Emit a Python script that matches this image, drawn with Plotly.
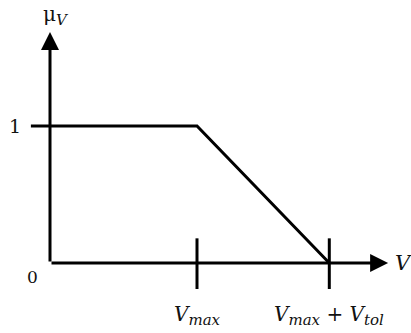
import plotly.graph_objects as go

# Membership function of the voltage variable (trapezoid shoulder)
V_MAX = 1.0
V_TOL = 0.9
V_START = -0.13

v_points = [V_START, V_MAX, V_MAX + V_TOL]
mu_points = [1, 1, 0]

SUB = '<span style="font-size:15px"><i>{}</i></span>'
tick_positions = [V_MAX, V_MAX + V_TOL]
tick_labels = ["<i>V</i><sub>" + SUB.format("max") + "</sub>",
               "<i>V</i><sub>" + SUB.format("max") + "</sub> + <i>V</i><sub>"
               + SUB.format("tol") + "</sub>"]

X_END = 2.3
Y_END = 1.686
TICK_HALF = 0.18

LINE = "#000000"
FONT = "DejaVu Serif"
TXT = "#111111"

fig = go.Figure()

# membership curve
fig.add_trace(go.Scatter(
    x=v_points, y=mu_points, mode="lines",
    line=dict(color=LINE, width=3), hoverinfo="skip", showlegend=False))

# tick marks on the horizontal axis
tx, ty = [], []
for p in tick_positions:
    tx += [p, p, None]
    ty += [TICK_HALF, -TICK_HALF - 0.01, None]
fig.add_trace(go.Scatter(
    x=tx, y=ty, mode="lines",
    line=dict(color=LINE, width=3), hoverinfo="skip", showlegend=False))

# axes with arrowheads
for tip in [(X_END, 0), (0, Y_END)]:
    fig.add_annotation(
        x=tip[0], y=tip[1], ax=0, ay=0, xref="x", yref="y",
        axref="x", ayref="y", text="", showarrow=True,
        arrowhead=2, arrowsize=1.2, arrowwidth=3, arrowcolor=LINE)

# tick labels
for p, lab in zip(tick_positions, tick_labels):
    fig.add_annotation(
        x=p, y=-0.38, xref="x", yref="y", text=lab, showarrow=False,
        xanchor="center", yanchor="middle",
        font=dict(family=FONT, size=20, color=TXT))

# value labels
fig.add_annotation(x=-0.238, y=1, text="1", showarrow=False,
                   xanchor="center", yanchor="middle",
                   font=dict(family=FONT, size=19, color=TXT))
fig.add_annotation(x=-0.116, y=-0.1, text="0", showarrow=False,
                   xanchor="center", yanchor="middle",
                   font=dict(family=FONT, size=17, color=TXT))

# axis names
fig.add_annotation(x=0.04, y=1.81, text="μ<sub>" + SUB.format("V") + "</sub>",
                   showarrow=False, xanchor="center", yanchor="middle",
                   font=dict(family=FONT, size=20, color=TXT))
fig.add_annotation(x=2.33, y=0.0, text="<i>V</i>", showarrow=False,
                   xanchor="left", yanchor="middle",
                   font=dict(family=FONT, size=21, color=TXT))

fig.update_xaxes(range=[-50 / 147, 361 / 147], visible=False, fixedrange=True)
fig.update_yaxes(range=[-70 / 137, 263 / 137], visible=False, fixedrange=True)
fig.update_layout(
    width=411, height=333, autosize=False,
    margin=dict(l=0, r=0, t=0, b=0),
    paper_bgcolor="white", plot_bgcolor="white")

fig.write_html("out.html")
